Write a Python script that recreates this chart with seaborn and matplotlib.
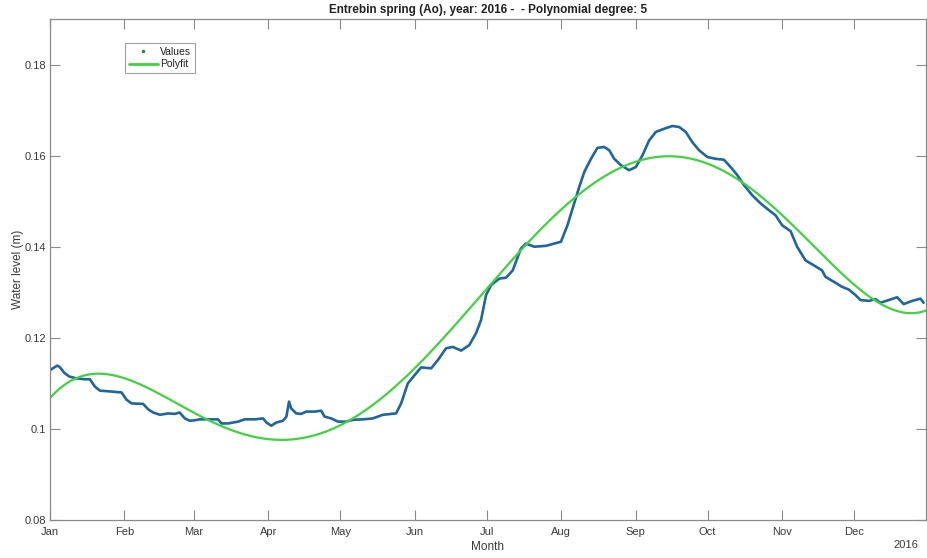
import numpy as np
import pandas as pd
import matplotlib
matplotlib.use("Agg")
import matplotlib.pyplot as plt
from matplotlib.lines import Line2D
import seaborn as sns

# Daily water level readings, Entrebin spring (Ao), 2016 (day of year, metres)
day_of_year = [0, 3, 4, 6, 8, 11, 14.5, 16.6, 18.7, 20.8, 25.7, 29.8, 31.9, 34, 38.8,
               40.9, 43, 45.8, 49.2, 52, 54, 56.2, 58.2, 60.3, 62.4, 65.9, 70, 71.4,
               74.2, 78.4, 81.1, 85.3, 88.8, 90.2, 92.2, 94.3, 97.1, 98.5, 99.6, 100.5,
               102.6, 104.7, 106.8, 110.3, 113, 114.4, 117.2, 120, 123.4, 126.2, 130.4,
               134.5, 138.7, 144.2, 146.3, 149.1, 151.9, 154.6, 158.8, 161.6, 165,
               167.8, 171.3, 174.7, 177.5, 179.6, 181.7, 183.8, 187.2, 190, 192.8,
               196.2, 198.3, 201.8, 206.7, 210.8, 212.9, 215.6, 218.4, 220.5, 222.6,
               225.4, 228.1, 230.9, 233, 235.1, 237.9, 241.3, 244.1, 246.8, 249.6,
               252.4, 255.9, 259.3, 262.1, 264.9, 267.6, 270.4, 273.9, 277.4, 280.8,
               283.6, 286.4, 289.2, 292.6, 296.1, 299.6, 302.3, 305.1, 308.6, 311.3,
               314.8, 318.3, 321.7, 323.1, 326.6, 330, 332.8, 335.6, 337.7, 341.2,
               343.9, 346, 349.5, 353, 355.7, 359.2, 362.7, 364]
water_level = [0.1129, 0.1139, 0.1136, 0.1123, 0.1115, 0.1111, 0.1109, 0.1109, 0.1093,
               0.1084, 0.1082, 0.1080, 0.1064, 0.1056, 0.1055, 0.1043, 0.1036, 0.1031,
               0.1034, 0.1033, 0.1036, 0.1023, 0.1018, 0.1019, 0.1021, 0.1021, 0.1021,
               0.1012, 0.1012, 0.1016, 0.1021, 0.1021, 0.1023, 0.1014, 0.1007, 0.1014,
               0.1018, 0.1027, 0.1060, 0.1045, 0.1034, 0.1033, 0.1038, 0.1038, 0.1040,
               0.1027, 0.1023, 0.1016, 0.1016, 0.1020, 0.1021, 0.1023, 0.1031, 0.1034,
               0.1056, 0.1100, 0.1118, 0.1135, 0.1133, 0.1151, 0.1177, 0.1180, 0.1172,
               0.1184, 0.1210, 0.1239, 0.1294, 0.1316, 0.1330, 0.1332, 0.1348, 0.1396,
               0.1407, 0.1400, 0.1402, 0.1408, 0.1411, 0.1447, 0.1495, 0.1531, 0.1564,
               0.1593, 0.1617, 0.1619, 0.1612, 0.1593, 0.1579, 0.1568, 0.1575, 0.1600,
               0.1633, 0.1652, 0.1659, 0.1665, 0.1663, 0.1652, 0.1630, 0.1612, 0.1597,
               0.1593, 0.1591, 0.1575, 0.1557, 0.1535, 0.1513, 0.1495, 0.1480, 0.1469,
               0.1447, 0.1434, 0.1400, 0.1370, 0.1359, 0.1348, 0.1334, 0.1323, 0.1312,
               0.1306, 0.1294, 0.1283, 0.1281, 0.1285, 0.1277, 0.1283, 0.1289, 0.1274,
               0.1281, 0.1286, 0.1277]

year = 2016
poly_degree = 5
month_labels = ["Jan", "Feb", "Mar", "Apr", "May", "Jun",
                "Jul", "Aug", "Sep", "Oct", "Nov", "Dec"]
y_ticks = [0.08, 0.10, 0.12, 0.14, 0.16, 0.18]
y_tick_labels = ["0.08", "0.1", "0.12", "0.14", "0.16", "0.18"]

sns.set_theme(style="white")
plt.rcParams["font.family"] = ["Liberation Sans", "DejaVu Sans"]

start = pd.Timestamp(f"{year}-01-01")
doy = np.asarray(day_of_year, dtype=float)
obs = pd.DataFrame({
    "date": start + pd.to_timedelta(doy, unit="D"),
    "level": water_level,
})

# Polynomial fit on normalised day numbers
mu, sd = doy.mean(), doy.std()
coef = np.polyfit((doy - mu) / sd, np.asarray(water_level), poly_degree)
grid = np.linspace(0, 365, 600)
fit = pd.DataFrame({
    "date": start + pd.to_timedelta(grid, unit="D"),
    "level": np.polyval(coef, (grid - mu) / sd),
})

blue = "#1f66a0"
green = "#3fd43f"
axis_col = "#8a8a8a"
text_col = "#3a3a3a"

fig = plt.figure(figsize=(9.27, 5.58), dpi=100)
ax = fig.add_axes([50 / 927, 1 - 520 / 558, 876 / 927, 501 / 558])

sns.lineplot(data=obs, x="date", y="level", ax=ax, color=blue, linewidth=1.9)
sns.lineplot(data=fit, x="date", y="level", ax=ax, color=green, linewidth=1.6)

ax.set_xlim(start, pd.Timestamp(f"{year}-12-31"))
ax.set_ylim(0.08, 0.19)
month_starts = pd.date_range(start, periods=12, freq="MS")
ax.set_xticks(month_starts)
ax.set_xticklabels(month_labels)
ax.set_yticks(y_ticks)
ax.set_yticklabels(y_tick_labels)

ax.tick_params(axis="both", direction="in", length=7, width=0.8, color=axis_col,
               labelsize=8, labelcolor=text_col, top=True, right=True,
               bottom=True, left=True)
ax.tick_params(axis="x", pad=5)
ax.tick_params(axis="y", pad=3)
for sp in ax.spines.values():
    sp.set_visible(True)
    sp.set_color(axis_col)
    sp.set_linewidth(0.9)

ax.set_xlabel("Month", fontsize=8.5, color=text_col)
ax.xaxis.set_label_coords(0.5, -0.042)
ax.set_ylabel("Water level (m)", fontsize=8.5, color=text_col)
ax.yaxis.set_label_coords(-0.03, 0.5)
ax.set_title(f"Entrebin spring (Ao), year: {year} -  - Polynomial degree: {poly_degree}",
             fontsize=8.5, fontweight="bold", color="#222222", pad=4)
ax.text(0.991, -0.04, str(year), transform=ax.transAxes, ha="right", va="top",
        fontsize=8, color=text_col)

handles = [
    Line2D([], [], linestyle="none", marker=".", markersize=3, color="#2e8b2e"),
    Line2D([], [], color=green, linewidth=2),
]
leg = ax.legend(handles, ["Values", "Polyfit"], loc="upper left",
                bbox_to_anchor=(0.0856, 0.952), fontsize=7.5, frameon=True,
                fancybox=False, borderpad=0.35, handlelength=2.8,
                handletextpad=0.25, labelspacing=0.25, borderaxespad=0)
leg.get_frame().set_edgecolor(axis_col)
leg.get_frame().set_linewidth(0.8)
for t in leg.get_texts():
    t.set_color("#222222")

fig.savefig("out.png", dpi=100, facecolor="white")
